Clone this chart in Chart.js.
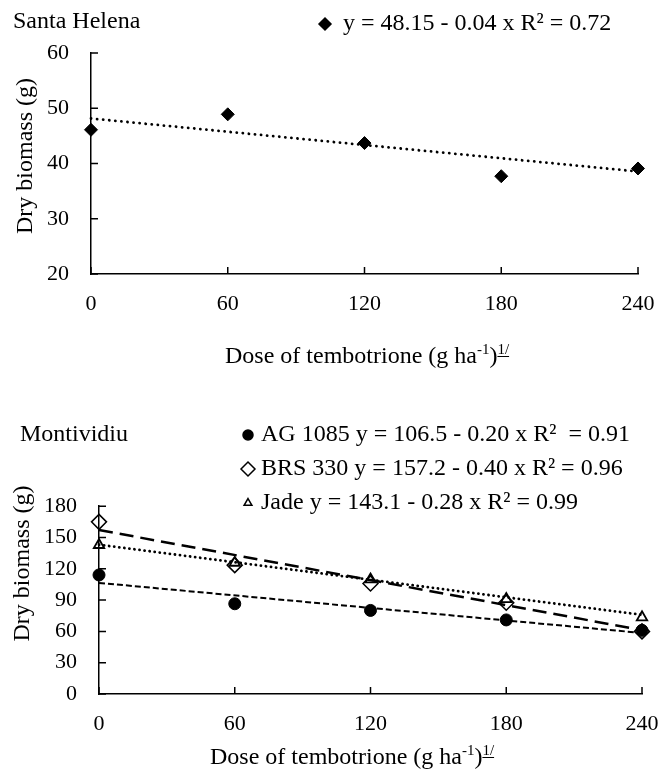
<!DOCTYPE html>
<html>
<head>
<meta charset="utf-8">
<script src="https://cdn.jsdelivr.net/npm/chart.js@4.4.1/dist/chart.umd.min.js"></script>
<style>
  body { margin: 0; background: #fff; width: 661px; height: 769px; overflow: hidden; position: relative; }
  canvas { position: absolute; left: 0; }
  #top-chart { top: 0; }
  #bottom-chart { top: 375px; }
</style>
</head>
<body>
<canvas id="top-chart" width="661" height="375"></canvas>
<canvas id="bottom-chart" width="661" height="394"></canvas>
<script>
// === DADOS ===
const doses = [0, 60, 120, 180, 240];
const trendDoses = [0, 240];
const santaHelena = [46.1, 48.9, 43.7, 37.7, 39.1];
const santaHelenaTrend = [48.15, 38.55];
const ag1085 = [114.1, 86.5, 80.1, 71, 61];
const ag1085Trend = [106.5, 58.5];
const brs330 = [165, 123.5, 106, 87.5, 60];
const brs330Trend = [157.2, 61.2];
const jade = [142.8, 125.8, 109.8, 91, 73.5];
const jadeTrend = [143.1, 75.9];
const doseTicks = [0, 60, 120, 180, 240];
const santaHelenaTicks = [20, 30, 40, 50, 60];
const montividiuTicks = [0, 30, 60, 90, 120, 150, 180];
const santaHelenaLegend = ['y = 48.15 - 0.04 x R² = 0.72'];
const montividiuLegend = ['AG 1085 y = 106.5 - 0.20 x R²  = 0.91', 'BRS 330 y = 157.2 - 0.40 x R² = 0.96', 'Jade y = 143.1 - 0.28 x R² = 0.99'];

const SERIF = '"Liberation Serif", "Times New Roman", serif';
const toXY = (xs, ys) => xs.map((x, i) => ({ x, y: ys[i] }));

// ticks para dentro + textos (legenda, títulos)
const decor = {
    id: 'decor',
    afterDraw(chart, args, o) {
        const { ctx, chartArea: a, scales: { x, y } } = chart;
        ctx.save();
        ctx.strokeStyle = '#000';
        ctx.lineWidth = 1.5;
        ctx.beginPath();
        x.ticks.forEach(t => { const px = x.getPixelForValue(t.value); ctx.moveTo(px, a.bottom); ctx.lineTo(px, a.bottom - 7); });
        y.ticks.forEach(t => { const py = y.getPixelForValue(t.value); ctx.moveTo(a.left, py); ctx.lineTo(a.left + 7, py); });
        ctx.stroke();

        ctx.fillStyle = '#000';
        ctx.font = '24px ' + SERIF;
        ctx.textBaseline = 'middle';
        ctx.textAlign = 'left';
        ctx.fillText(o.panel, o.panelX, o.panelY);

        o.legend.forEach((item, i) => {
            const ly = o.legendY + i * o.legendGap;
            ctx.fillStyle = item.fill;
            ctx.strokeStyle = '#000';
            Chart.helpers.drawPoint(ctx, { pointStyle: item.style, radius: item.r, borderWidth: 1.5 }, o.markerX, ly);
            ctx.fillStyle = '#000';
            ctx.fillText(item.text, o.textX, ly);
        });

        // título eixo y
        ctx.save();
        ctx.translate(o.yTitleX, o.yTitleY);
        ctx.rotate(-Math.PI / 2);
        ctx.textAlign = 'center';
        ctx.fillText('Dry biomass (g)', 0, 0);
        ctx.restore();

        // título eixo x com sobrescritos
        ctx.textBaseline = 'alphabetic';
        let cx = o.xTitleX;
        const by = o.xTitleY;
        const part = (txt, size, dy) => { ctx.font = size + 'px ' + SERIF; ctx.fillText(txt, cx, by - dy); const w = ctx.measureText(txt).width; cx += w; return w; };
        part('Dose of tembotrione (g ha', 24, 0);
        part('-1', 15, 9);
        part(')', 24, 0);
        const ux = cx;
        const uw = part('1/', 15, 9);
        ctx.lineWidth = 1;
        ctx.beginPath();
        ctx.moveTo(ux, by - 6.5);
        ctx.lineTo(ux + uw, by - 6.5);
        ctx.stroke();
        ctx.restore();
    }
};

const makeChart = (id, datasets, yTicks, area, canvasH, decorOpts) => new Chart(document.getElementById(id), {
    type: 'scatter',
    data: { datasets },
    options: {
        responsive: false,
        animation: false,
        devicePixelRatio: 1,
        events: [],
        layout: { padding: { top: area.top, right: 661 - area.right, left: 0, bottom: 0 } },
        plugins: { legend: { display: false }, tooltip: { enabled: false }, decor: decorOpts },
        scales: {
            x: {
                type: 'linear', min: doseTicks[0], max: doseTicks[doseTicks.length - 1],
                afterFit: s => { s.height = canvasH - area.bottom; s.paddingLeft = 0; s.paddingRight = 0; },
                afterBuildTicks: s => { s.ticks = doseTicks.map(v => ({ value: v })); },
                grid: { display: false },
                border: { color: '#000', width: 1.5 },
                ticks: { color: '#000', padding: 9, maxRotation: 0, font: { family: SERIF, size: 22 } }
            },
            y: {
                min: yTicks[0], max: yTicks[yTicks.length - 1],
                afterFit: s => { s.width = area.left; s.paddingTop = 0; s.paddingBottom = 0; },
                afterBuildTicks: s => { s.ticks = yTicks.map(v => ({ value: v })); },
                grid: { display: false },
                border: { color: '#000', width: 1.5 },
                ticks: { color: '#000', padding: 14, font: { family: SERIF, size: 22 } }
            }
        }
    },
    plugins: [decor]
});

const pts = (data, style, r, fill, bw) => ({ data, showLine: false, clip: false, pointStyle: style, pointRadius: r, backgroundColor: fill, borderColor: '#000', borderWidth: bw });
const trend = (data, width, dash, cap) => ({ data, showLine: true, clip: false, pointRadius: 0, borderColor: '#000', borderWidth: width, borderDash: dash, borderCapStyle: cap });

// === SANTA HELENA ===
makeChart('top-chart', [
    pts(toXY(doses, santaHelena), 'rectRot', 6.5, '#000', 1),
    trend(toXY(trendDoses, santaHelenaTrend), 2.8, [0.1, 6], 'round')
], santaHelenaTicks, { top: 53, bottom: 274, left: 91, right: 638 }, 375, {
    panel: 'Santa Helena', panelX: 13, panelY: 22,
    legend: [{ style: 'rectRot', r: 6, fill: '#000', text: santaHelenaLegend[0] }],
    legendY: 24, legendGap: 0, markerX: 325, textX: 343,
    yTitleX: 26, yTitleY: 156,
    xTitleX: 225, xTitleY: 363
});

// === MONTIVIDIU ===
makeChart('bottom-chart', [
    pts(toXY(doses, ag1085), 'circle', 6, '#000', 1),
    pts(toXY(doses, jade), 'triangle', 6, 'rgba(0,0,0,0)', 1.8),
    pts(toXY(doses, brs330), 'rectRot', 7.5, 'rgba(0,0,0,0)', 1.5),
    trend(toXY(trendDoses, ag1085Trend), 2, [6, 3], 'butt'),
    trend(toXY(trendDoses, jadeTrend), 2.8, [0.1, 5], 'round'),
    trend(toXY(trendDoses, brs330Trend), 2.5, [14, 7], 'butt')
], montividiuTicks, { top: 131.2, bottom: 319, left: 99, right: 642 }, 394, {
    panel: 'Montividiu', panelX: 20, panelY: 60,
    legend: [
        { style: 'circle', r: 5, fill: '#000', text: montividiuLegend[0] },
        { style: 'rectRot', r: 7, fill: 'rgba(0,0,0,0)', text: montividiuLegend[1] },
        { style: 'triangle', r: 4.5, fill: 'rgba(0,0,0,0)', text: montividiuLegend[2] }
    ],
    legendY: 60, legendGap: 34, markerX: 248, textX: 261,
    yTitleX: 23, yTitleY: 188.5,
    xTitleX: 210, xTitleY: 389
});
</script>
</body>
</html>
